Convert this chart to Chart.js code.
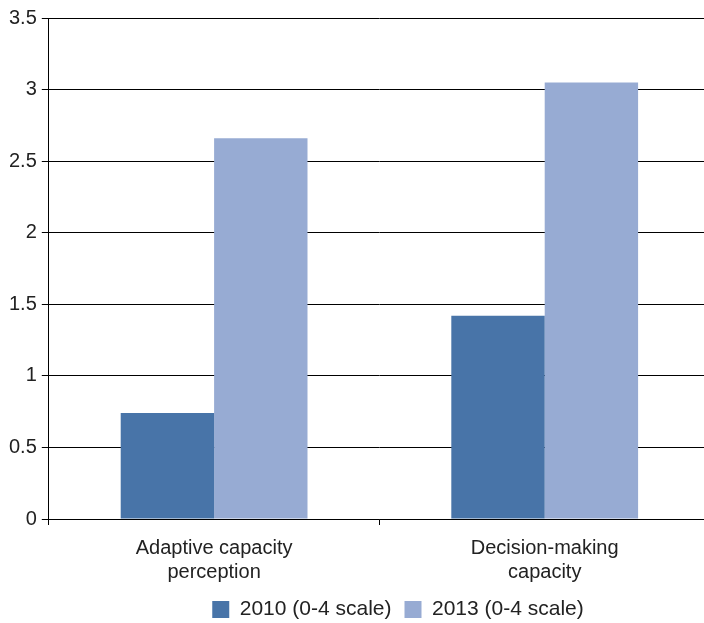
<!DOCTYPE html>
<html>
<head>
<meta charset="utf-8">
<script src="https://cdn.jsdelivr.net/npm/chart.js@4/dist/chart.umd.min.js"></script>
<style>
  html, body { margin: 0; padding: 0; background: #fff; overflow: hidden; }
  #wrap { width: 800px; height: 623px; }
</style>
</head>
<body>
<div id="wrap"><canvas id="chart" width="800" height="623"></canvas></div>
<script>
// chart data
const categories = [['Adaptive capacity', 'perception'], ['Decision-making', 'capacity']];
const seriesNames = ['2010 (0-4 scale)', '2013 (0-4 scale)'];
const values2010 = [0.74, 1.42];
const values2013 = [2.66, 3.05];
const yTicks = [0, 0.5, 1, 1.5, 2, 2.5, 3, 3.5];

const textColor = '#222';
const fontFamily = 'Liberation Sans, Arial, Helvetica, sans-serif';

// nudge the legend so it sits where the original one does
const legendShift = {
  id: 'legendShift',
  afterLayout(chart) {
    if (chart.legend) {
      chart.legend.left += 41;
      chart.legend.right += 41;
    }
  }
};

new Chart(document.getElementById('chart'), {
  type: 'bar',
  data: {
    labels: categories,
    datasets: [{
      label: seriesNames[0],
      data: values2010,
      backgroundColor: '#4874A8',
      categoryPercentage: 0.565,
      barPercentage: 1.0
    }, {
      label: seriesNames[1],
      data: values2013,
      backgroundColor: '#97ABD3',
      categoryPercentage: 0.565,
      barPercentage: 1.0
    }]
  },
  plugins: [legendShift],
  options: {
    responsive: false,
    animation: false,
    layout: { padding: { top: 18, right: 90, left: 4, bottom: -7 } },
    plugins: {
      tooltip: { enabled: false },
      legend: {
        position: 'bottom',
        labels: {
          color: textColor,
          font: { family: fontFamily, size: 21 },
          boxWidth: 17,
          boxHeight: 17,
          padding: 13
        }
      }
    },
    scales: {
      x: {
        offset: true,
        afterFit: function(scale) {
          scale.height -= 9;
        },
        grid: {
          offset: true,
          drawOnChartArea: false,
          drawTicks: true,
          tickLength: 6,
          color: '#000'
        },
        border: { color: '#000', width: 1 },
        ticks: {
          color: textColor,
          font: { family: fontFamily, size: 20, lineHeight: 1.2 },
          padding: 11,
          maxRotation: 0
        }
      },
      y: {
        min: yTicks[0],
        max: yTicks[yTicks.length - 1],
        afterBuildTicks: function(axis) {
          axis.ticks = yTicks.map(v => ({ value: v }));
        },
        grid: {
          color: '#000',
          lineWidth: 1,
          drawTicks: true,
          tickLength: 7
        },
        border: { color: '#000', width: 1 },
        ticks: {
          color: textColor,
          font: { family: fontFamily, size: 20 },
          padding: 5,
          callback: v => String(v)
        }
      }
    }
  }
});
</script>
</body>
</html>
